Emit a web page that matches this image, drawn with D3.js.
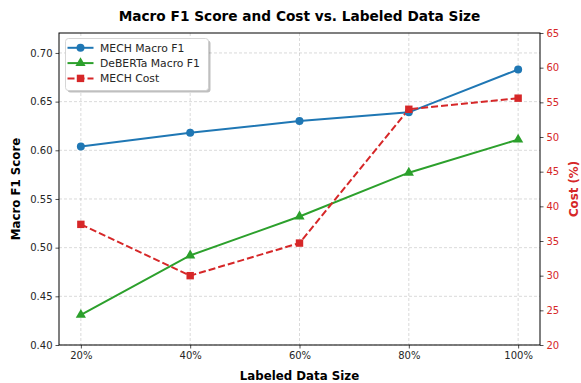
<!DOCTYPE html>
<html>
<head>
<meta charset="utf-8">
<script src="https://cdn.jsdelivr.net/npm/d3@7"></script>
<style>
  body { margin: 0; background: #fff; }
  text { font-family: "DejaVu Sans", sans-serif; }
</style>
</head>
<body>
<div id="chart"></div>
<script>
// Data
var labelSizes = [20, 40, 60, 80, 100];
var mechF1 = [0.604, 0.618, 0.630, 0.639, 0.683];
var debertaF1 = [0.431, 0.492, 0.532, 0.577, 0.611];
var mechCost = [37.4, 30.0, 34.7, 54.0, 55.6];
var leftTicks = [0.40, 0.45, 0.50, 0.55, 0.60, 0.65, 0.70];
var rightTicks = [20, 25, 30, 35, 40, 45, 50, 55, 60, 65];

var W = 581, H = 383;
var m = {left: 59, right: 41, top: 33, bottom: 38};
var iw = W - m.left - m.right, ih = H - m.top - m.bottom;

var blue = "#1f77b4", green = "#2ca02c", red = "#d62728";

var svg = d3.select("#chart").append("svg")
    .attr("width", W).attr("height", H);

var x = d3.scaleLinear().domain([16, 104]).range([0, iw]);
var yL = d3.scaleLinear().domain([0.40, 0.7205]).range([ih, 0]);
var yR = d3.scaleLinear().domain([20, 65]).range([ih, 0]);

var g = svg.append("g").attr("transform", "translate(" + m.left + "," + m.top + ")");

// grid
g.append("g").selectAll("line").data(labelSizes).enter().append("line")
    .attr("x1", function(d) { return x(d); }).attr("x2", function(d) { return x(d); })
    .attr("y1", 0).attr("y2", ih)
    .attr("stroke", "#b0b0b0").attr("stroke-opacity", 0.6)
    .attr("stroke-width", 0.8).attr("stroke-dasharray", "3,2");
g.append("g").selectAll("line").data(leftTicks).enter().append("line")
    .attr("y1", function(d) { return yL(d); }).attr("y2", function(d) { return yL(d); })
    .attr("x1", 0).attr("x2", iw)
    .attr("stroke", "#b0b0b0").attr("stroke-opacity", 0.6)
    .attr("stroke-width", 0.8).attr("stroke-dasharray", "3,2");

// axes
var xAxis = g.append("g").attr("transform", "translate(0," + ih + ")")
    .call(d3.axisBottom(x).tickValues(labelSizes).tickFormat(function(d) { return d + "%"; })
          .tickSize(3.5).tickPadding(3));
var lAxis = g.append("g")
    .call(d3.axisLeft(yL).tickValues(leftTicks).tickFormat(d3.format(".2f"))
          .tickSize(3.5).tickPadding(3));
var rAxis = g.append("g").attr("transform", "translate(" + iw + ",0)")
    .call(d3.axisRight(yR).tickValues(rightTicks).tickSize(3.5).tickPadding(3));

[xAxis, lAxis, rAxis].forEach(function(a) {
    a.select(".domain").remove();
    a.selectAll("text").attr("font-size", 10).attr("fill", "#262626");
    a.selectAll("line").attr("stroke", "#262626").attr("stroke-width", 0.8);
});
rAxis.selectAll("text").attr("fill", red);

// frame
g.append("rect").attr("width", iw).attr("height", ih)
    .attr("fill", "none").attr("stroke", "#000").attr("stroke-width", 1);

// lines
function drawLine(vals, ys, color, dash) {
    var line = d3.line()
        .x(function(d, i) { return x(labelSizes[i]); })
        .y(function(d) { return ys(d); });
    g.append("path").datum(vals)
        .attr("d", line).attr("fill", "none")
        .attr("stroke", color).attr("stroke-width", 2)
        .attr("stroke-dasharray", dash || null);
}
drawLine(mechF1, yL, blue);
drawLine(debertaF1, yL, green);
drawLine(mechCost, yR, red, "7,3");

function markers(vals, ys, color, type, size) {
    g.append("g").selectAll("path").data(vals).enter().append("path")
        .attr("transform", function(d, i) { return "translate(" + x(labelSizes[i]) + "," + ys(d) + ")"; })
        .attr("d", d3.symbol().type(type).size(size))
        .attr("fill", color);
}
markers(mechF1, yL, blue, d3.symbolCircle, 50);
markers(debertaF1, yL, green, d3.symbolTriangle, 45);
markers(mechCost, yR, red, d3.symbolSquare, 55);

// labels
svg.append("text").attr("x", m.left + iw / 2).attr("y", 21)
    .attr("text-anchor", "middle").attr("font-size", 13.7).attr("font-weight", "bold")
    .text("Macro F1 Score and Cost vs. Labeled Data Size");
svg.append("text").attr("x", m.left + iw / 2).attr("y", 380)
    .attr("text-anchor", "middle").attr("font-size", 11.8).attr("font-weight", "bold")
    .text("Labeled Data Size");
svg.append("text").attr("transform", "translate(20," + (m.top + ih / 2) + ") rotate(-90)")
    .attr("text-anchor", "middle").attr("font-size", 11.8).attr("font-weight", "bold")
    .text("Macro F1 Score");
svg.append("text").attr("transform", "translate(578," + (m.top + ih / 2) + ") rotate(-90)")
    .attr("text-anchor", "middle").attr("font-size", 11.8).attr("font-weight", "bold")
    .attr("fill", red)
    .text("Cost (%)");

// legend
var legendItems = [
    {name: "MECH Macro F1", color: blue, sym: d3.symbolCircle, size: 50, dash: null},
    {name: "DeBERTa Macro F1", color: green, sym: d3.symbolTriangle, size: 45, dash: null},
    {name: "MECH Cost", color: red, sym: d3.symbolSquare, size: 55, dash: "7,3"}
];
var lg = svg.append("g").attr("transform", "translate(65.5,38.5)");
lg.append("rect").attr("x", 2).attr("y", 2).attr("width", 143).attr("height", 52)
    .attr("rx", 3).attr("fill", "#000").attr("opacity", 0.25);
lg.append("rect").attr("width", 143).attr("height", 52).attr("rx", 3)
    .attr("fill", "#fff").attr("stroke", "#cccccc").attr("stroke-width", 0.8);
legendItems.forEach(function(d, i) {
    var yy = 9.3 + i * 15.3;
    lg.append("line").attr("x1", 2).attr("x2", 28).attr("y1", yy).attr("y2", yy)
        .attr("stroke", d.color).attr("stroke-width", 2).attr("stroke-dasharray", d.dash);
    lg.append("path").attr("transform", "translate(15," + yy + ")")
        .attr("d", d3.symbol().type(d.sym).size(d.size)).attr("fill", d.color);
    lg.append("text").attr("x", 34.5).attr("y", yy + 3.9).attr("font-size", 10.8)
        .attr("fill", "#262626").text(d.name);
});
</script>
</body>
</html>
